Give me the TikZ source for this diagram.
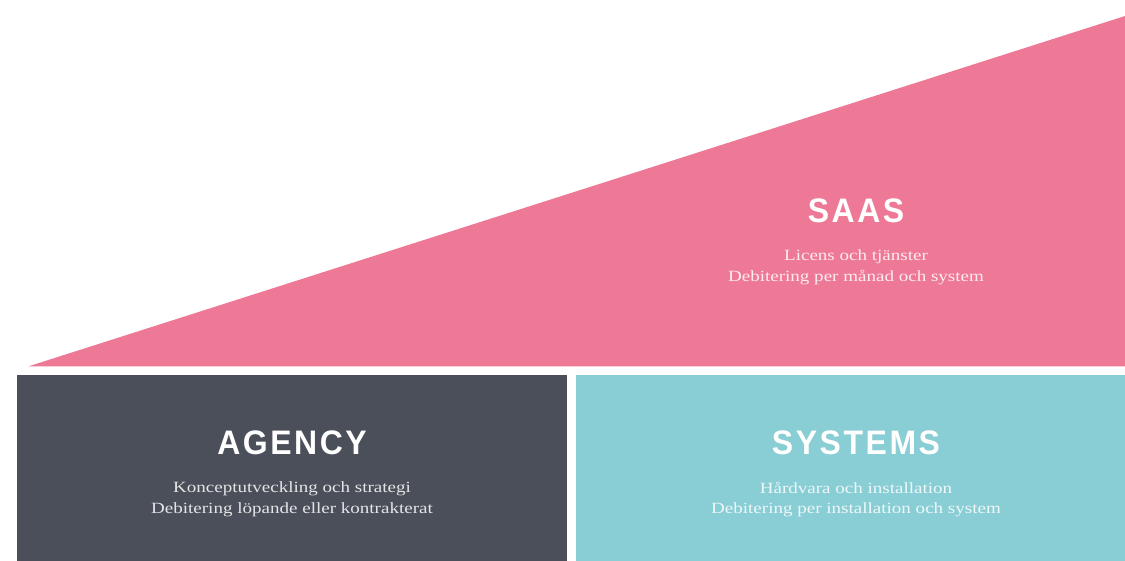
\documentclass[tikz,border=0pt]{standalone}
\usepackage{fontspec}
\setmainfont[FakeStretch=1.22]{Liberation Serif}
\newfontfamily\titlefont[LetterSpace=7.5,FakeStretch=0.94]{Liberation Sans}
\definecolor{saaspink}{HTML}{EE7996}
\definecolor{agencygray}{HTML}{4A4F59}
\definecolor{systeal}{HTML}{89CDD5}
\begin{document}
\begin{tikzpicture}[x=1pt,y=-1pt,
  titletext/.style={text=white,font=\titlefont\bfseries\fontsize{34}{38}\selectfont,inner sep=0pt},
  subtext/.style={text=white,text opacity=0.85,font=\fontsize{15.6}{20.5}\selectfont,align=center,inner sep=0pt}]
\useasboundingbox (0,0) rectangle (1125,561);
\fill[saaspink] (28,366.5) -- (1125,16) -- (1125,366.5) -- cycle;
\fill[agencygray] (17,375) rectangle (567,561);
\fill[systeal] (576,375) rectangle (1125,561);
\node[titletext] (saas) at (856,211) {SAAS};
\node[subtext] (saassub) at (856,267.5) {Licens och tjänster\\Debitering per månad och system};
\node[titletext] (agency) at (292,443) {AGENCY};
\node[subtext] (agencysub) at (292,499.5) {Konceptutveckling och strategi\\Debitering löpande eller kontrakterat};
\node[titletext] (systems) at (856,443) {SYSTEMS};
\node[subtext] (systemssub) at (856,499.5) {Hårdvara och installation\\Debitering per installation och system};
\end{tikzpicture}
\end{document}
